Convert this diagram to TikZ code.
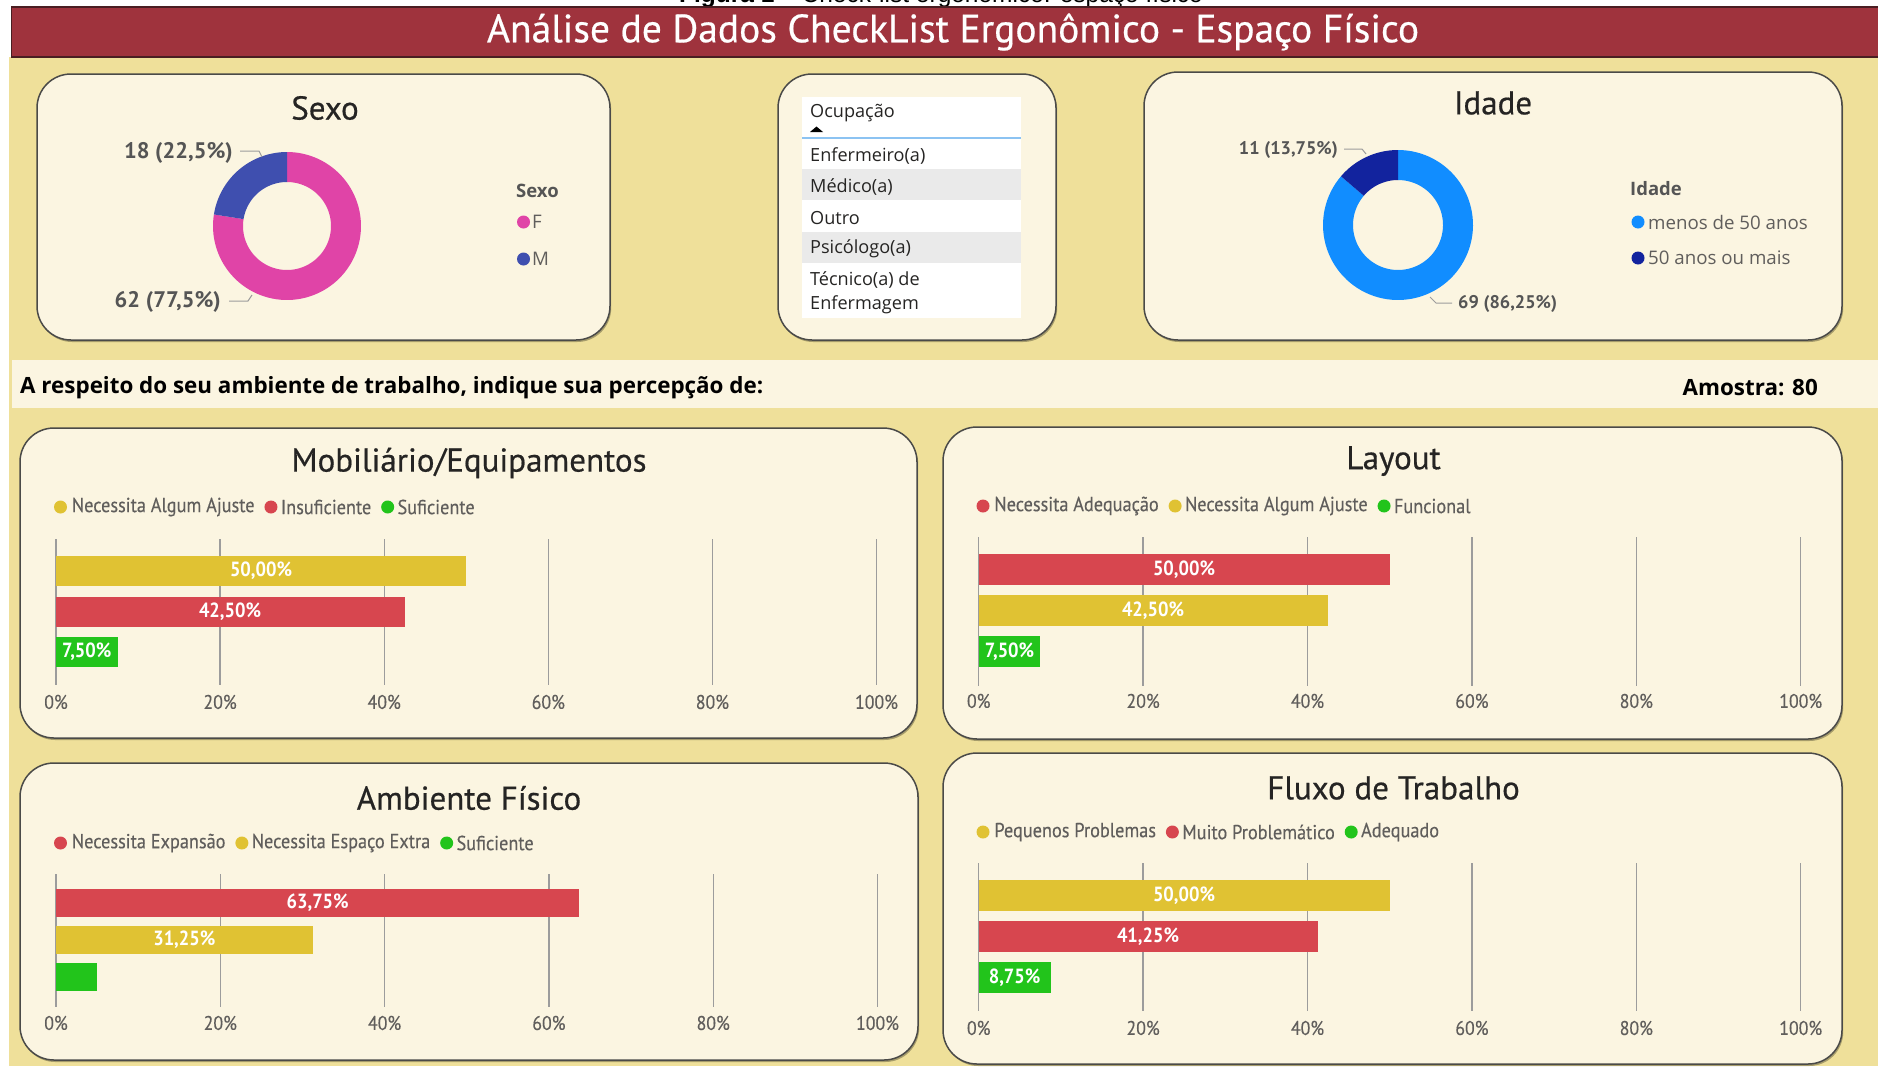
\documentclass[tikz,border=0pt]{standalone}
\usepackage{fontspec}
\usetikzlibrary{calc}
\setmainfont{Open Sans}
\newfontfamily\dinfont{PT Sans}
\newfontfamily\dintitle[FakeBold=0.5]{PT Sans}
\newfontfamily\dinnarrow[FakeStretch=0.9]{PT Sans}
\newfontfamily\dinlegend[FakeStretch=0.9,FakeBold=0.3]{PT Sans}
\newfontfamily\segoe{Open Sans}
\newfontfamily\capfont{Liberation Sans}
\newcommand\fsz[1]{\fontsize{#1}{#1}\selectfont}
\definecolor{bgyellow}{HTML}{EFE09A}
\definecolor{panelfill}{HTML}{FBF5E1}
\definecolor{panelborder}{HTML}{4A4A48}
\definecolor{titlered}{HTML}{9F333D}
\definecolor{titleedge}{HTML}{4A1E22}
\definecolor{barY}{HTML}{E0C233}
\definecolor{barR}{HTML}{D7464F}
\definecolor{barG}{HTML}{22C41B}
\definecolor{pinkF}{HTML}{E044A7}
\definecolor{blueM}{HTML}{3F4FAF}
\definecolor{ageLight}{HTML}{118DFF}
\definecolor{ageDark}{HTML}{12239E}
\definecolor{gridgray}{HTML}{9C9C9C}
\definecolor{txtgray}{HTML}{605E5C}
\definecolor{txtdark}{HTML}{252423}
\definecolor{lblgray}{HTML}{555555}
\definecolor{selgray}{HTML}{EAEAEA}
\definecolor{sortblue}{HTML}{8CC3F2}
\newcommand\cardpanel[4]{%
  \fill[panelshadow] (#1+1.2,#2+2) rectangle (#3+1.2,#4+2);
  \filldraw[panel] (#1,#2) rectangle (#3,#4);}
\begin{document}
\begin{tikzpicture}[x=1pt,y=-1pt,
  panel/.style={fill=panelfill, draw=panelborder, line width=1.5pt, rounded corners=34pt},
  panelshadow/.style={fill=black, opacity=0.3, rounded corners=34pt},
  ptitle/.style={font=\dintitle\fsz{33}, text=txtdark, inner sep=0},
  legtxt/.style={font=\dinlegend\fsz{20.3}, text=txtgray, inner sep=0, anchor=west},
  legdot/.style={circle, minimum size=13pt, inner sep=0},
  barlbl/.style={font=\dinnarrow\bfseries\fsz{20.5}, text=white, inner sep=0},
  axlbl/.style={font=\dinlegend\fsz{19.8}, text=txtgray, inner sep=0},
  gridln/.style={draw=gridgray, line width=1.3pt},
  leader/.style={draw=gridgray, line width=1pt},
  dlbl/.style={font=\dinfont\bfseries\fsz{22.5}, text=lblgray, inner sep=0},
  idlbl/.style={font=\dinfont\bfseries\fsz{18.3}, text=lblgray, inner sep=0},
  listtxt/.style={font=\segoe\fsz{18.1}, text=txtdark, inner sep=0, anchor=west},
  seglegtxt/.style={font=\segoe\fsz{18.7}, text=txtgray, inner sep=0, anchor=west},
  leghead/.style={font=\segoe\bfseries\fsz{18.5}, text=lblgray, inner sep=0, anchor=west}]
\useasboundingbox (0,0) rectangle (1878,1066);
% page background
\fill[white] (0,0) rectangle (1878,1066);
\fill[bgyellow] (9,57) rectangle (1878,1066);
% caption above the dashboard, cut by the page edge as in the source
\node[font=\capfont\fsz{24.5}, text=black, anchor=base, inner sep=0] (caption) at (941,2.5) {\textbf{Figura 1} – Check-list ergonômico: espaço físico};
% title bar
\filldraw[fill=titlered, draw=titleedge, line width=1.2pt] (11.5,7) rectangle (1880,57);
\node[font=\dintitle\fsz{39.5}, text=white, inner sep=0] (title) at (953,32) {Análise de Dados CheckList Ergonômico - Espaço Físico};

% ---------------- Sexo ----------------
\cardpanel{37}{74}{610}{340}
\node[ptitle] (sexoT) at (325,108) {Sexo};
\begin{scope}[shift={(287,226)}, yscale=-1]
  \fill[pinkF] plot[domain=171:450, samples=90] (\x:74) -- plot[domain=450:171, samples=90] (\x:44) -- cycle;
  \fill[blueM] plot[domain=90:171, samples=40] (\x:74) -- plot[domain=171:90, samples=40] (\x:44) -- cycle;
\end{scope}
\node[dlbl, anchor=east] (sexoL1) at (233,152.5) {18 (22,5\%)};
\coordinate (sexoP1) at (262,157);
\draw[leader] ($(sexoL1.east)+(7,-1.5)$) -- (259,151) -- (sexoP1);
\node[dlbl, anchor=east] (sexoL2) at (221,302) {62 (77,5\%)};
\coordinate (sexoP2) at (252,295);
\draw[leader] ($(sexoL2.east)+(8,-1)$) -- (248,301) -- (sexoP2);
\node[leghead] (sexoLH) at (516,191) {Sexo};
\node[legdot, fill=pinkF] (sexoD1) at (523.5,222) {};
\node[seglegtxt] (sexoLT1) at (532,222) {F};
\node[legdot, fill=blueM] (sexoD2) at (523.5,259) {};
\node[seglegtxt] (sexoLT2) at (532,259) {M};

% ---------------- Ocupação ----------------
\cardpanel{778}{74}{1056}{340}
\fill[white] (802,97) rectangle (1021,318);
\fill[selgray] (802,169) rectangle (1021,200);
\fill[selgray] (802,232) rectangle (1021,263);
\draw[sortblue, line width=2pt] (802,138) -- (1021,138);
\node[listtxt] (ocT) at (810,113.5) {Ocupação};
\fill[black] (810,132) -- (823,132) -- (816.5,126.5) -- cycle;
\node[listtxt] (oc1) at (810,156) {Enfermeiro(a)};
\node[listtxt] (oc2) at (810,187) {Médico(a)};
\node[listtxt] (oc3) at (810,218) {Outro};
\node[listtxt] (oc4) at (810,249) {Psicólogo(a)};
\node[listtxt] (oc5) at (810,280) {Técnico(a) de};
\node[listtxt] (oc6) at (810,305) {Enfermagem};

% ---------------- Idade ----------------
\cardpanel{1144}{72}{1842}{340}
\node[ptitle] (idT) at (1493,103) {Idade};
\begin{scope}[shift={(1398,225)}, yscale=-1]
  \fill[ageLight] plot[domain=139.5:450, samples=90] (\x:75) -- plot[domain=450:139.5, samples=90] (\x:45) -- cycle;
  \fill[ageDark] plot[domain=90:139.5, samples=30] (\x:75) -- plot[domain=139.5:90, samples=30] (\x:45) -- cycle;
\end{scope}
\node[idlbl, anchor=east] (idL1) at (1338,150) {11 (13,75\%)};
\coordinate (idP1) at (1366,154);
\draw[leader] ($(idL1.east)+(6,-1)$) -- (1362,149) -- (idP1);
\node[idlbl, anchor=west] (idL2) at (1458,304) {69 (86,25\%)};
\coordinate (idP2) at (1430,297);
\draw[leader] (idP2) -- (1436,303) -- ($(idL2.west)+(-6,-1)$);
\node[leghead] (idLH) at (1630,189) {Idade};
\node[legdot, fill=ageLight] (idD1) at (1638,222) {};
\node[seglegtxt] (idLT1) at (1648,222) {menos de 50 anos};
\node[legdot, fill=ageDark] (idD2) at (1638,258) {};
\node[seglegtxt] (idLT2) at (1648,258) {50 anos ou mais};

% ---------------- banner ----------------
\fill[panelfill] (12,360) rectangle (1878,408);
\node[font=\segoe\bfseries\fsz{22.4}, text=black, inner sep=0, anchor=west] (bannerL) at (20,387.5) {A respeito do seu ambiente de trabalho, indique sua percepção de:};
\node[font=\segoe\bfseries\fsz{22.4}, text=black, inner sep=0, anchor=east] (bannerR) at (1818,387.5) {Amostra: 80};

% ---------------- Mobiliário/Equipamentos ----------------
\cardpanel{20}{428}{917}{738}
\node[ptitle] (mobT) at (469,463) {Mobiliário/Equipamentos};
\node[legdot, fill=barY] (mobD1) at (60.5,507) {};
\node[legtxt] (mobL1) at ($(mobD1.east)+(4.5,0)$) {Necessita Algum Ajuste};
\node[legdot, fill=barR, anchor=west] (mobD2) at ($(mobL1.east)+(9.5,0)$) {};
\node[legtxt] (mobL2) at ($(mobD2.east)+(3,0)$) {Insuficiente};
\node[legdot, fill=barG, anchor=west] (mobD3) at ($(mobL2.east)+(9.5,0)$) {};
\node[legtxt] (mobL3) at ($(mobD3.east)+(3,0)$) {Suficiente};
\foreach \i in {0,...,5} \draw[gridln] ({56+\i*164.1},539) -- ({56+\i*164.1},685);
\fill[barY] (56,556) rectangle (466.3,586);
\fill[barR] (56,596.5) rectangle (404.7,626.5);
\fill[barG] (56,637) rectangle (117.5,667);
\node[barlbl] (mobB1) at (261,571) {50,00\%};
\node[barlbl] (mobB2) at (230,611.5) {42,50\%};
\node[barlbl] (mobB3) at (86.7,652) {7,50\%};
\foreach \i/\p in {0/0,1/20,2/40,3/60,4/80,5/100} \node[axlbl] (mobA\i) at ({56+\i*164.1},702) {\p\%};

% ---------------- Layout ----------------
\cardpanel{943}{427}{1842}{739}
\node[ptitle] (layT) at (1393.5,461) {Layout};
\node[legdot, fill=barR] (layD1) at (983,506) {};
\node[legtxt] (layL1) at ($(layD1.east)+(4.5,0)$) {Necessita Adequação};
\node[legdot, fill=barY, anchor=west] (layD2) at ($(layL1.east)+(9.5,0)$) {};
\node[legtxt] (layL2) at ($(layD2.east)+(3,0)$) {Necessita Algum Ajuste};
\node[legdot, fill=barG, anchor=west] (layD3) at ($(layL2.east)+(9.5,0)$) {};
\node[legtxt] (layL3) at ($(layD3.east)+(3,0)$) {Funcional};
\foreach \i in {0,...,5} \draw[gridln] ({978.7+\i*164.4},537) -- ({978.7+\i*164.4},686);
\fill[barR] (978.7,554) rectangle (1389.7,585);
\fill[barY] (978.7,595) rectangle (1328,626);
\fill[barG] (978.7,636) rectangle (1040.3,667);
\node[barlbl] (layB1) at (1184,569.5) {50,00\%};
\node[barlbl] (layB2) at (1153,610.5) {42,50\%};
\node[barlbl] (layB3) at (1009.5,651.5) {7,50\%};
\foreach \i/\p in {0/0,1/20,2/40,3/60,4/80,5/100} \node[axlbl] (layA\i) at ({978.7+\i*164.4},701) {\p\%};

% ---------------- Ambiente Físico ----------------
\cardpanel{20}{763}{918}{1060}
\node[ptitle] (ambT) at (469,798) {Ambiente Físico};
\node[legdot, fill=barR] (ambD1) at (60.5,843) {};
\node[legtxt] (ambL1) at ($(ambD1.east)+(4.5,0)$) {Necessita Expansão};
\node[legdot, fill=barY, anchor=west] (ambD2) at ($(ambL1.east)+(9.5,0)$) {};
\node[legtxt] (ambL2) at ($(ambD2.east)+(3,0)$) {Necessita Espaço Extra};
\node[legdot, fill=barG, anchor=west] (ambD3) at ($(ambL2.east)+(9.5,0)$) {};
\node[legtxt] (ambL3) at ($(ambD3.east)+(3,0)$) {Suficiente};
\foreach \i in {0,...,5} \draw[gridln] ({56+\i*164.3},874) -- ({56+\i*164.3},1007);
\fill[barR] (56,889) rectangle (579.4,917);
\fill[barY] (56,926) rectangle (312.6,954);
\fill[barG] (56,963) rectangle (97,991);
\node[barlbl] (ambB1) at (317.7,903) {63,75\%};
\node[barlbl] (ambB2) at (184.3,940) {31,25\%};
\foreach \i/\p in {0/0,1/20,2/40,3/60,4/80,5/100} \node[axlbl] (ambA\i) at ({56+\i*164.3},1023) {\p\%};

% ---------------- Fluxo de Trabalho ----------------
\cardpanel{943}{753}{1842}{1064}
\node[ptitle] (fluT) at (1393.5,788) {Fluxo de Trabalho};
\node[legdot, fill=barY] (fluD1) at (983,832) {};
\node[legtxt] (fluL1) at ($(fluD1.east)+(4.5,0)$) {Pequenos Problemas};
\node[legdot, fill=barR, anchor=west] (fluD2) at ($(fluL1.east)+(9.5,0)$) {};
\node[legtxt] (fluL2) at ($(fluD2.east)+(3,0)$) {Muito Problemático};
\node[legdot, fill=barG, anchor=west] (fluD3) at ($(fluL2.east)+(9.5,0)$) {};
\node[legtxt] (fluL3) at ($(fluD3.east)+(3,0)$) {Adequado};
\foreach \i in {0,...,5} \draw[gridln] ({978.7+\i*164.4},863) -- ({978.7+\i*164.4},1011);
\fill[barY] (978.7,880) rectangle (1389.7,911);
\fill[barR] (978.7,921) rectangle (1317.8,952);
\fill[barG] (978.7,962) rectangle (1050.6,993);
\node[barlbl] (fluB1) at (1184,895.5) {50,00\%};
\node[barlbl] (fluB2) at (1148,936.5) {41,25\%};
\node[barlbl] (fluB3) at (1014.6,977.5) {8,75\%};
\foreach \i/\p in {0/0,1/20,2/40,3/60,4/80,5/100} \node[axlbl] (fluA\i) at ({978.7+\i*164.4},1028) {\p\%};
\end{tikzpicture}
\end{document}
